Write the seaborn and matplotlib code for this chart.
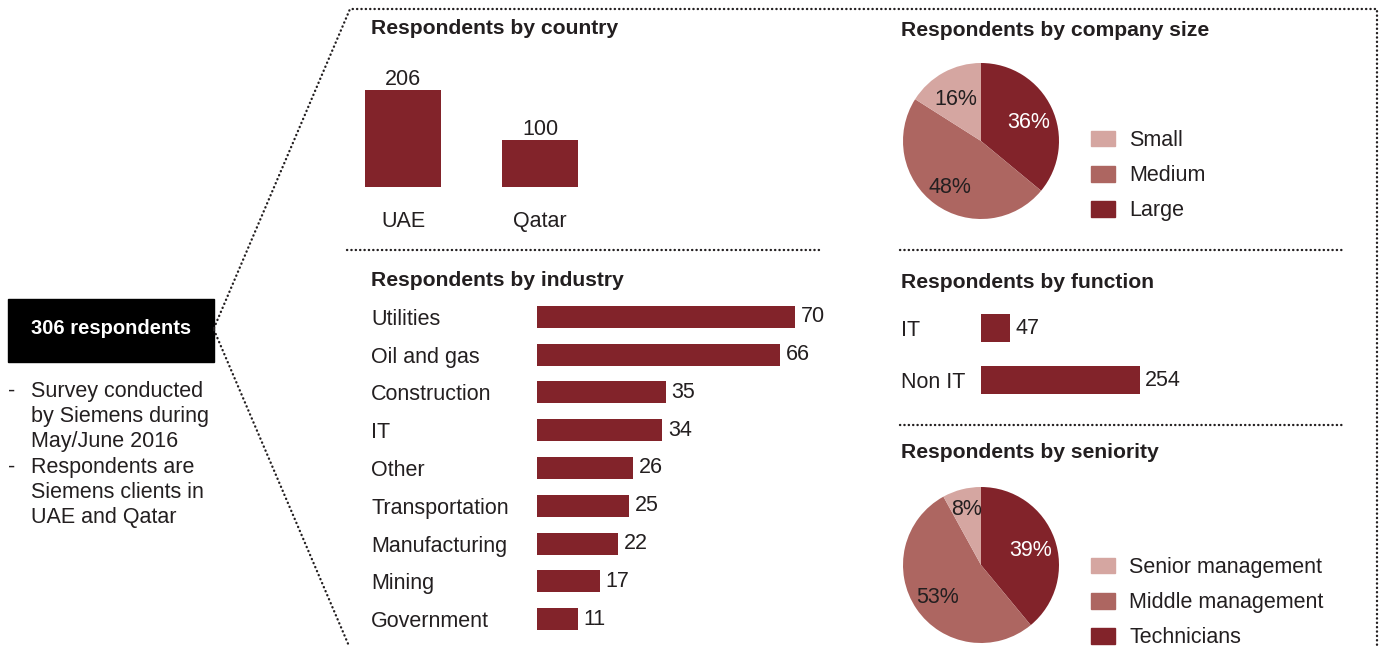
import matplotlib
matplotlib.use("Agg")
import matplotlib.pyplot as plt
from matplotlib.patches import Patch, Rectangle
import seaborn as sns

# ---- data ----
countries = ["UAE", "Qatar"]
country_counts = [206, 100]

industries = ["Utilities", "Oil and gas", "Construction", "IT", "Other",
              "Transportation", "Manufacturing", "Mining", "Government"]
industry_counts = [70, 66, 35, 34, 26, 25, 22, 17, 11]

functions = ["IT", "Non IT"]
function_counts = [47, 254]

size_labels = ["Large", "Medium", "Small"]
size_shares = [36, 48, 16]

seniority_labels = ["Technicians", "Middle management", "Senior management"]
seniority_shares = [39, 53, 8]

bullet_lines = [("-", "Survey conducted"), ("", "by Siemens during"),
                ("", "May/June 2016"), ("-", "Respondents are"),
                ("", "Siemens clients in"), ("", "UAE and Qatar")]

# ---- style ----
DARK = "#82232a"
MID = "#ad6661"
LIGHT = "#d5a6a1"
INK = "#231f20"
FS = 15.5

sns.set_style("white")
plt.rcParams["font.family"] = ["Liberation Sans", "DejaVu Sans"]
plt.rcParams["text.color"] = INK
plt.rcParams["xtick.color"] = INK
plt.rcParams["ytick.color"] = INK

W, H = 1384, 646
fig = plt.figure(figsize=(W / 100, H / 100), dpi=100)


def px_axes(x0, y0, x1, y1):
    ax = fig.add_axes([x0 / W, 1 - y1 / H, (x1 - x0) / W, (y1 - y0) / H])
    ax.set_facecolor("none")
    return ax


# background layer in pixel coordinates for frames and free text
bg = px_axes(0, 0, W, H)
bg.set_xlim(0, W)
bg.set_ylim(H, 0)
bg.axis("off")


def dotted(xs, ys):
    bg.plot(xs, ys, color=INK, lw=1.7, linestyle=(0, (0.1, 1.75)),
            dash_capstyle="round", solid_capstyle="round")


dotted([214, 350, 1377, 1377], [328, 9, 9, 646])
dotted([214, 349], [330, 646])
dotted([347, 820], [250, 250])
dotted([900, 1345], [250, 250])
dotted([900, 1345], [425, 425])

# summary box
bg.add_patch(Rectangle((8, 299), 206, 63, color="black"))
bg.text(111, 329, "306 respondents", color="white", fontsize=14.5,
        fontweight="bold", ha="center", va="center")
for i, (dash, line) in enumerate(bullet_lines):
    y = 391 + i * 25.4
    if dash:
        bg.text(8, y, dash, fontsize=FS, ha="left", va="center")
    bg.text(31, y, line, fontsize=FS, ha="left", va="center")

# section titles
titles = [(371, 29, "Respondents by country"),
          (371, 281, "Respondents by industry"),
          (901, 30, "Respondents by company size"),
          (901, 282, "Respondents by function"),
          (901, 453, "Respondents by seniority")]
for x, y, t in titles:
    bg.text(x, y, t, fontsize=15.2, fontweight="bold", ha="left", va="center")

# ---- respondents by country ----
ax = px_axes(334.5, 187 - 0.471 * 260, 608.5, 187)
sns.barplot(x=countries, y=country_counts, color=DARK, saturation=1,
            width=0.555, linewidth=0, ax=ax)
ax.set_xlim(-0.5, 1.5)
ax.set_ylim(0, 260)
ax.bar_label(ax.containers[0], padding=0, fontsize=FS)
ax.set_yticks([])
ax.tick_params(axis="x", length=0, pad=17, labelsize=FS)
ax.set_xlabel("")
ax.set_ylabel("")
sns.despine(ax=ax, left=True, bottom=True)

# ---- respondents by industry ----
ax = px_axes(537, 298.1, 832, 637.9)
sns.barplot(x=industry_counts, y=industries, orient="h", color=DARK,
            saturation=1, width=0.583, linewidth=0, ax=ax)
ax.set_xlim(0, 80)
ax.set_ylim(8.5, -0.5)
ax.bar_label(ax.containers[0], padding=4, fontsize=FS)
ax.set_xticks([])
ax.set_yticks(range(len(industries)), industries, ha="left")
ax.tick_params(axis="y", length=0, pad=119.5, labelsize=FS)
ax.set_xlabel("")
ax.set_ylabel("")
sns.despine(ax=ax, left=True, bottom=True)

# ---- respondents by function ----
ax = px_axes(981, 302, 1231, 406)
sns.barplot(x=function_counts, y=functions, orient="h", color=DARK,
            saturation=1, width=0.54, linewidth=0, ax=ax)
ax.set_xlim(0, 400)
ax.set_ylim(1.5, -0.5)
ax.bar_label(ax.containers[0], padding=4, fontsize=FS)
ax.set_xticks([])
ax.set_yticks(range(len(functions)), functions, ha="left")
ax.tick_params(axis="y", length=0, pad=57.6, labelsize=FS)
ax.set_xlabel("")
ax.set_ylabel("")
sns.despine(ax=ax, left=True, bottom=True)


# ---- pies ----
def pie_panel(box, shares, labels, legend_top):
    ax = px_axes(*box)
    _, _, autotexts = ax.pie(
        shares, colors=[DARK, MID, LIGHT], startangle=90, counterclock=False,
        autopct=lambda p: f"{p:.0f}%", pctdistance=0.67, radius=1,
        wedgeprops=dict(linewidth=0), textprops=dict(fontsize=FS, color=INK))
    autotexts[0].set_color("white")
    ax.set_xlim(-1, 1)
    ax.set_ylim(-1, 1)
    ax.set_aspect("equal")
    handles = [Patch(color=LIGHT), Patch(color=MID), Patch(color=DARK)]
    fig.legend(handles, labels[::-1], loc="upper left",
               bbox_to_anchor=(1091 / W, 1 - legend_top / H), frameon=False,
               fontsize=FS, handlelength=1.12, handleheight=0.75,
               handletextpad=0.65, labelspacing=0.66, borderpad=0,
               borderaxespad=0)
    return autotexts


at = pie_panel((903, 63, 1059, 219), size_shares, size_labels, 130)
for t in at:
    x, y = t.get_position()
    t.set_position((x, y - 0.05))
at = pie_panel((903, 487, 1059, 643), seniority_shares, seniority_labels, 557)
for t in at[:2]:
    x, y = t.get_position()
    t.set_position((x, y - 0.04))
# small slice label sits a little further out
x, y = at[2].get_position()
at[2].set_position((x * 1.09, y * 1.09))

fig.savefig("out.png", dpi=100)
